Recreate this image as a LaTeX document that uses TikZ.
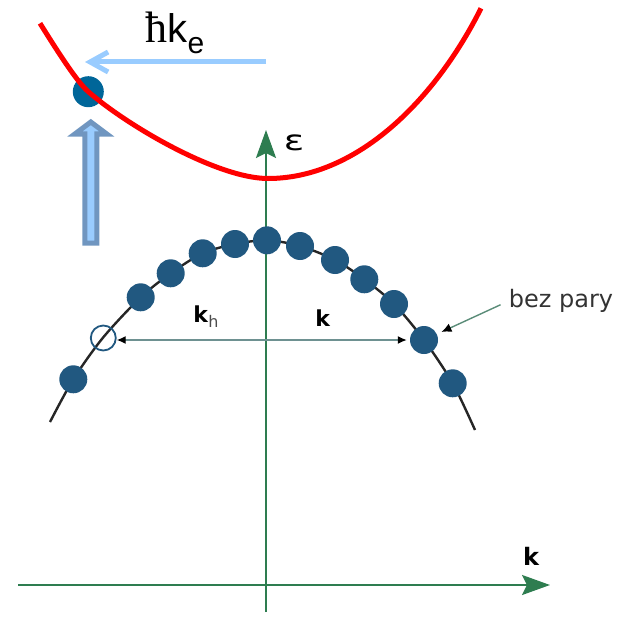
\documentclass[tikz,border=0pt]{standalone}
\usepackage{fontspec}
\setmainfont{DejaVu Sans}
\newfontfamily\serifhbar{Liberation Serif}
\newfontfamily\sansk{Liberation Sans}
\usetikzlibrary{arrows.meta}
\definecolor{axisgreen}{RGB}{46,125,80}
\definecolor{pairblue}{RGB}{33,88,128}
\definecolor{elecblue}{RGB}{0,102,153}
\definecolor{photonlight}{RGB}{153,204,255}
\definecolor{photonsteel}{RGB}{112,150,192}
\definecolor{kgray}{RGB}{110,145,145}
\definecolor{notegreen}{RGB}{90,140,120}
\newcommand{\ksub}[1]{\textbf{k}\raisebox{-5pt}{\fontsize{16}{16}\selectfont\color{black!70}#1}}

\begin{document}
\begin{tikzpicture}[x=1pt,y=-1pt,
  pair/.style={circle,fill=pairblue,minimum size=28pt,inner sep=0pt},
  hole/.style={circle,draw=pairblue,line width=1.8pt,minimum size=25pt,inner sep=0pt},
  axis/.style={draw=axisgreen,line width=2.4pt,-{Stealth[length=28pt,width=20pt,inset=5pt]}},
  kline/.style={draw=kgray,line width=1.4pt,{Latex[length=9pt,width=8pt,black]}-{Latex[length=9pt,width=8pt,black]}}]
\useasboundingbox (0,0) rectangle (626,623);
% axes
\coordinate (ebot) at (266,612);
\coordinate (etop) at (266,130);
\coordinate (kleft) at (18,585);
\coordinate (kright) at (550,585);
\draw[axis] (ebot) -- (etop);
\draw[axis] (kleft) -- (kright);
\node[font=\fontsize{28}{28}\selectfont] (elabel) at (294,143) {\scalebox{1.35}[1]{ε}};
\node[font=\fontsize{24}{24}\selectfont\bfseries] (klabel) at (531,556) {k};
% valence band
\draw[black!85,line width=2.4pt] plot[smooth] coordinates {(50,422) (73.3,379.3) (103.3,337.3) (140.7,297.3) (170.7,273.3) (202.7,253.3) (235,244) (267,240.3) (300,246) (335,260) (364.3,279.3) (394,304) (424,340) (452.7,383.3) (475,430)};
\node[pair] (p1) at (73.3,379.3) {};
\node[hole] (hole) at (103.3,338) {};
\node[pair] (p2) at (140.7,297.3) {};
\node[pair] (p3) at (170.7,273.3) {};
\node[pair] (p4) at (202.7,253.3) {};
\node[pair] (p5) at (235,244) {};
\node[pair] (p6) at (267,240.3) {};
\node[pair] (p7) at (300,246) {};
\node[pair] (p8) at (335,260) {};
\node[pair] (p9) at (364.3,279.3) {};
\node[pair] (p10) at (394,304) {};
\node[pair] (kdot) at (424,340) {};
\node[pair] (p11) at (452.7,383.3) {};
\draw[kline,shorten >=3pt] (hole.east |- kdot) -- (kdot.west);
\node[font=\fontsize{22}{22}\selectfont] (khlabel) at (206,317) {\ksub{h}};
\node[font=\fontsize{22}{22}\selectfont] (kvlabel) at (323,318) {\textbf{k}};
\node[font=\fontsize{24}{24}\selectfont,text=black!80,inner sep=0pt] (bez) at (561,301) {bez pary};
\draw[notegreen,line width=1.4pt,-{Latex[length=10pt,width=9pt,black]},shorten <=9pt,shorten >=5pt] (bez.west) -- (kdot);
% conduction band and photon
\node[circle,fill=elecblue,minimum size=31pt,inner sep=0pt] (elec) at (88.3,91.7) {};
\draw[red,line width=5pt] (40,23.3) .. controls (55,47.3) and (76.3,81.3) .. (elec.center)
  .. controls (128.3,126.5) and (218,178.5) .. (268,178.5)
  .. controls (358,178.5) and (436,98.3) .. (481,8.3);
\coordinate (pstart) at (266,62);
\coordinate (pend) at (85,62);
\draw[photonlight,line width=5pt,-{Straight Barb[length=18pt,width=20pt]}] (pstart) -- (pend);
\node[inner sep=0pt] (hklabel) at (175,33) {{\serifhbar\fontsize{44}{44}\selectfont ħ}{\sansk\fontsize{40}{40}\selectfont k\raisebox{-11pt}{\fontsize{30}{30}\selectfont e}}};
\draw[photonsteel,fill=photonlight,line width=5pt,line join=miter] (84.8,243.2) -- (84.8,134) -- (74.8,134) -- (90.8,122) -- (106.8,134) -- (96.8,134) -- (96.8,243.2) -- cycle;
\end{tikzpicture}
\end{document}
